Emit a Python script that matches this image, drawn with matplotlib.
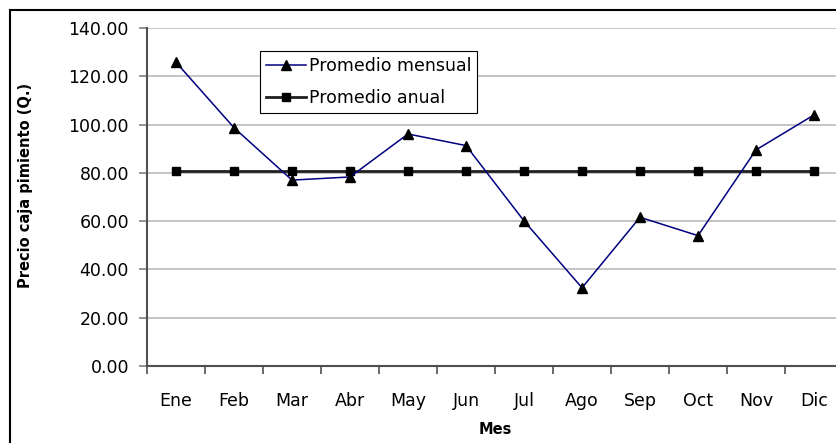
import matplotlib
matplotlib.use("Agg")
import matplotlib.pyplot as plt
from matplotlib.patches import Rectangle
import numpy as np

plt.rcParams['font.family'] = ['DejaVu Sans']

# datos
meses = ['Ene', 'Feb', 'Mar', 'Abr', 'May', 'Jun', 'Jul', 'Ago', 'Sep', 'Oct', 'Nov', 'Dic']
promedio_mensual = [125.8, 98.7, 77.0, 78.3, 96.1, 91.3, 60.1, 32.4, 61.6, 54.0, 89.5, 104.0]
promedio_anual = [80.8] * 12
yticks = [0, 20, 40, 60, 80, 100, 120, 140]

fig = plt.figure(figsize=(8.36, 4.43), dpi=100)
ax = fig.add_axes([147 / 836, 77 / 443, 696 / 836, 338 / 443])

# marco exterior del grafico
fig.patches.append(Rectangle((10 / 836, -0.1), 1.2, (433 / 443) + 0.1, transform=fig.transFigure,
                             fill=False, edgecolor='black', linewidth=1.5))

x = np.arange(len(meses))
ax.plot(x, promedio_anual, color='#202020', linewidth=2, marker='s', markersize=5.5,
        markerfacecolor='black', markeredgecolor='black', label='Promedio anual', zorder=3)
ax.plot(x, promedio_mensual, color='#000080', linewidth=1.1, marker='^', markersize=7.5,
        markerfacecolor='black', markeredgecolor='black', label='Promedio mensual', zorder=4)

ax.set_xlim(-0.5, len(meses) - 0.5)
ax.set_ylim(0, 140)
ax.set_yticks(yticks)
ax.set_yticklabels([f'{v:.2f}' for v in yticks], fontsize=12.5)
ax.yaxis.grid(True, color='#b4b4b4', linewidth=1.1)
ax.set_axisbelow(True)

ax.set_xticks(np.arange(-0.5, len(meses), 1.0))
ax.set_xticklabels([])
ax.set_xticks(x, minor=True)
ax.set_xticklabels(meses, minor=True, fontsize=12.5)
ax.tick_params(axis='x', which='major', length=5.5, color='#505050', width=1.2)
ax.tick_params(axis='x', which='minor', length=0, pad=19)
ax.tick_params(axis='y', length=6, color='#808080', width=1.2, pad=7)

for s in ['top', 'right']:
    ax.spines[s].set_visible(False)
for s in ['left', 'bottom']:
    ax.spines[s].set_color('#505050')
    ax.spines[s].set_linewidth(1.5)

ax.set_xlabel('Mes', fontsize=10.5, fontweight='bold')
ax.set_ylabel('Precio caja pimiento (Q.)', fontsize=10.5, fontweight='bold')
ax.xaxis.set_label_coords(0.5, (366 - 430) / 338)
ax.xaxis.label.set_va('center')
ax.yaxis.set_label_coords((26 - 147) / 696, (366 - 185) / 338)
ax.yaxis.label.set_va('center')

h, l = ax.get_legend_handles_labels()
leg = ax.legend(h[::-1], l[::-1], loc='upper left', bbox_to_anchor=(113 / 696, 1 - 23 / 338),
                fontsize=12.5, frameon=True, fancybox=False, edgecolor='black', framealpha=1,
                borderpad=0.35, labelspacing=0.78, handlelength=2.3, handletextpad=0.15,
                borderaxespad=0)
leg.get_frame().set_linewidth(0.8)

fig.savefig('out.png', dpi=100)
